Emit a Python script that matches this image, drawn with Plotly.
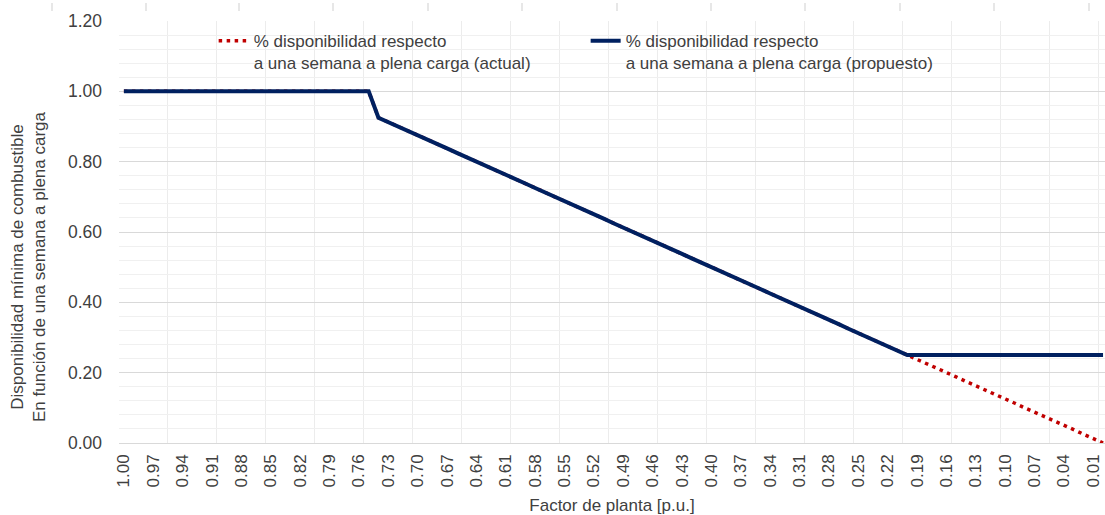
import plotly.graph_objects as go

categories = [
    "1.00", "0.99", "0.98", "0.97", "0.96", "0.95", "0.94", "0.93", "0.92", "0.91",
    "0.90", "0.89", "0.88", "0.87", "0.86", "0.85", "0.84", "0.83", "0.82", "0.81",
    "0.80", "0.79", "0.78", "0.77", "0.76", "0.75", "0.74", "0.73", "0.72", "0.71",
    "0.70", "0.69", "0.68", "0.67", "0.66", "0.65", "0.64", "0.63", "0.62", "0.61",
    "0.60", "0.59", "0.58", "0.57", "0.56", "0.55", "0.54", "0.53", "0.52", "0.51",
    "0.50", "0.49", "0.48", "0.47", "0.46", "0.45", "0.44", "0.43", "0.42", "0.41",
    "0.40", "0.39", "0.38", "0.37", "0.36", "0.35", "0.34", "0.33", "0.32", "0.31",
    "0.30", "0.29", "0.28", "0.27", "0.26", "0.25", "0.24", "0.23", "0.22", "0.21",
    "0.20", "0.19", "0.18", "0.17", "0.16", "0.15", "0.14", "0.13", "0.12", "0.11",
    "0.10", "0.09", "0.08", "0.07", "0.06", "0.05", "0.04", "0.03", "0.02", "0.01",
    "0.00",
]

propuesto = [
    1.000, 1.000, 1.000, 1.000, 1.000, 1.000, 1.000, 1.000, 1.000, 1.000,
    1.000, 1.000, 1.000, 1.000, 1.000, 1.000, 1.000, 1.000, 1.000, 1.000,
    1.000, 1.000, 1.000, 1.000, 1.000, 1.000, 0.925, 0.913, 0.900, 0.888,
    0.875, 0.863, 0.850, 0.838, 0.825, 0.813, 0.800, 0.788, 0.775, 0.763,
    0.750, 0.738, 0.725, 0.713, 0.700, 0.688, 0.675, 0.663, 0.650, 0.638,
    0.625, 0.613, 0.600, 0.588, 0.575, 0.563, 0.550, 0.538, 0.525, 0.513,
    0.500, 0.488, 0.475, 0.463, 0.450, 0.438, 0.425, 0.413, 0.400, 0.388,
    0.375, 0.363, 0.350, 0.338, 0.325, 0.313, 0.300, 0.288, 0.275, 0.263,
    0.250, 0.250, 0.250, 0.250, 0.250, 0.250, 0.250, 0.250, 0.250, 0.250,
    0.250, 0.250, 0.250, 0.250, 0.250, 0.250, 0.250, 0.250, 0.250, 0.250,
    0.250,
]

actual = [
    1.000, 1.000, 1.000, 1.000, 1.000, 1.000, 1.000, 1.000, 1.000, 1.000,
    1.000, 1.000, 1.000, 1.000, 1.000, 1.000, 1.000, 1.000, 1.000, 1.000,
    1.000, 1.000, 1.000, 1.000, 1.000, 1.000, 0.925, 0.913, 0.900, 0.888,
    0.875, 0.863, 0.850, 0.838, 0.825, 0.813, 0.800, 0.788, 0.775, 0.763,
    0.750, 0.738, 0.725, 0.713, 0.700, 0.688, 0.675, 0.663, 0.650, 0.638,
    0.625, 0.613, 0.600, 0.588, 0.575, 0.563, 0.550, 0.538, 0.525, 0.513,
    0.500, 0.488, 0.475, 0.463, 0.450, 0.438, 0.425, 0.413, 0.400, 0.388,
    0.375, 0.363, 0.350, 0.338, 0.325, 0.313, 0.300, 0.288, 0.275, 0.263,
    0.250, 0.238, 0.225, 0.213, 0.200, 0.188, 0.175, 0.163, 0.150, 0.138,
    0.125, 0.113, 0.100, 0.088, 0.075, 0.063, 0.050, 0.038, 0.025, 0.013,
    0.000,
]

name_actual = "% disponibilidad respecto<br>a una semana a plena carga (actual)"
name_prop = "% disponibilidad respecto<br>a una semana a plena carga (propuesto)"
y_title = "Disponibilidad mínima de combustible<br>En función de una semana a plena carga"
x_title = "Factor de planta [p.u.]"

FONT = "Liberation Sans, Arial, sans-serif"
TXT = "#404040"

idx = list(range(len(categories)))
tick_idx = idx[0:100:3]
tick_txt = [categories[i] for i in tick_idx]

fig = go.Figure()
fig.add_trace(go.Scatter(
    x=idx, y=actual, mode="lines", name=name_actual,
    line=dict(color="#C00000", width=3.5, dash="3.5px,4.5px"),
))
fig.add_trace(go.Scatter(
    x=idx, y=propuesto, mode="lines", name=name_prop,
    line=dict(color="#002060", width=4),
))

# faint column markers along the top edge of the source image
top_marks = [52, 146, 239, 333, 428, 522, 617, 711, 805, 900, 994, 1089]
for px in top_marks:
    xp = (px - 119) / (1105 - 119)
    fig.add_shape(type="line", xref="paper", yref="paper",
                  x0=xp, x1=xp, y0=(443 - 3) / 422, y1=(443 - 11) / 422,
                  line=dict(color="#cfcfcf", width=1))

# y-axis title (placed below the plot's vertical centre, as in the source)
fig.add_annotation(
    text=y_title, textangle=-90, xref="paper", yref="paper",
    x=(28 - 119) / 986, y=(443 - 267) / 422, xanchor="center", yanchor="middle",
    showarrow=False, font=dict(size=17, color=TXT), align="center",
)

fig.update_layout(
    width=1105, height=515,
    margin=dict(l=119, r=0, t=21, b=72, autoexpand=False),
    paper_bgcolor="white", plot_bgcolor="white",
    font=dict(family=FONT, size=17, color=TXT),
    showlegend=True,
    legend=dict(
        orientation="h", x=0.096, y=0.995, xanchor="left", yanchor="top",
        bgcolor="rgba(0,0,0,0)", font=dict(size=17, color=TXT),
        valign="top", entrywidth=327, entrywidthmode="pixels",
        tracegroupgap=0, itemwidth=30,
    ),
    xaxis=dict(
        range=[-0.5, 100.2], automargin=False,
        tickmode="array", tickvals=tick_idx, ticktext=tick_txt,
        tickangle=-90, tickfont=dict(size=17, color=TXT),
        ticklabelstandoff=7,
        showgrid=False, zeroline=False, showline=False, ticks="",
        minor=dict(tickmode="linear", tick0=-0.5, dtick=5, showgrid=True,
                   gridcolor="#ececec", gridwidth=1, ticks=""),
        title=dict(text=x_title, font=dict(size=17, color=TXT), standoff=12),
    ),
    yaxis=dict(
        range=[0, 1.2], tickmode="linear", tick0=0, dtick=0.2, automargin=False,
        tickformat=".2f", tickfont=dict(size=17.5, color=TXT),
        ticklabelstandoff=16,
        showgrid=True, gridcolor="#d9d9d9", gridwidth=1,
        zeroline=True, zerolinecolor="#d9d9d9", zerolinewidth=1,
        showline=False, ticks="", ticklen=0,
        minor=dict(tickmode="linear", tick0=0, dtick=0.04, showgrid=True,
                   gridcolor="#f0f0f0", gridwidth=1, ticks=""),
    ),
)

fig.write_html("out.html", config={"displayModeBar": False},
               post_script="document.body.style.margin='0';")
